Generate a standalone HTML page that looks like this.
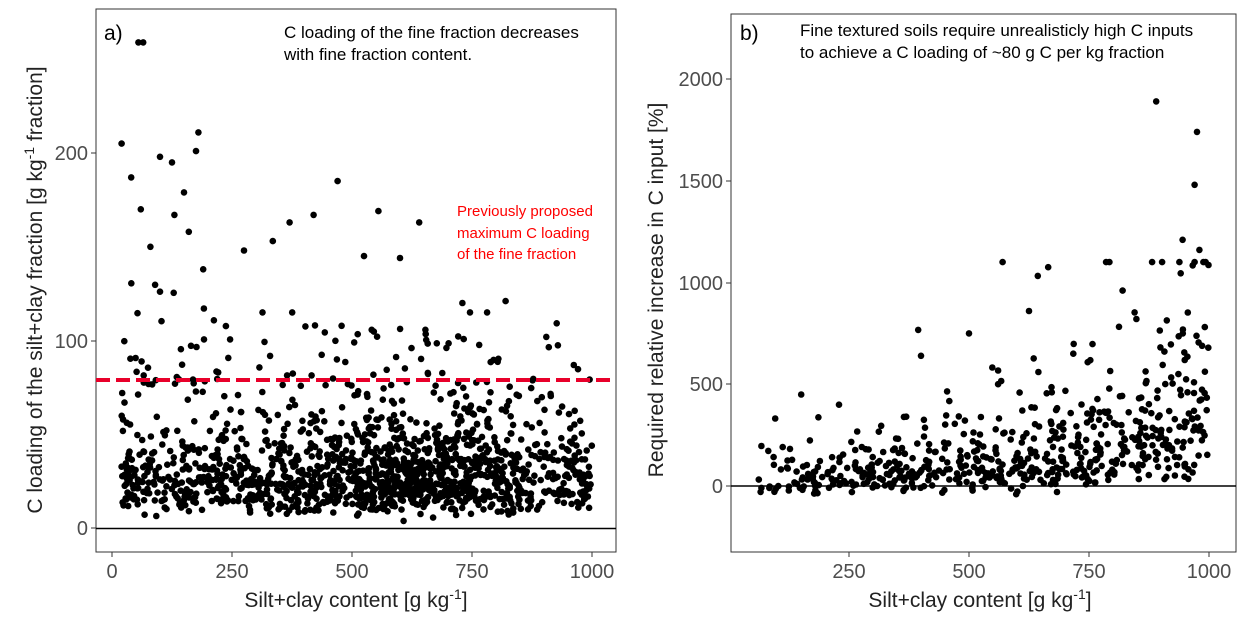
<!DOCTYPE html>
<html><head><meta charset="utf-8"><style>
body{margin:0;background:#fff;width:1250px;height:623px;overflow:hidden}
text{font-family:"Liberation Sans",sans-serif}
</style></head><body>
<svg id="s" width="1250" height="623" xmlns="http://www.w3.org/2000/svg">
<rect x="96" y="9" width="520" height="543" fill="none" stroke="#333" stroke-width="1"/>
<rect x="731" y="14" width="505" height="538" fill="none" stroke="#333" stroke-width="1"/>
<g id="pa"></g><g id="pb"></g>
<line x1="96" x2="616" y1="528.5" y2="528.5" stroke="#000" stroke-width="1.5"/>
<line x1="96" x2="616" y1="380" y2="380" stroke="#e8002a" stroke-width="4" stroke-dasharray="14,6"/>
<line x1="731" x2="1236" y1="486" y2="486" stroke="#000" stroke-width="1.5"/>
<g font-size="20" fill="#4d4d4d" text-anchor="middle">
<text x="112" y="578">0</text><text x="232" y="578">250</text><text x="352" y="578">500</text><text x="472" y="578">750</text><text x="592" y="578">1000</text>
<text x="849" y="578">250</text><text x="969" y="578">500</text><text x="1089" y="578">750</text><text x="1209" y="578">1000</text>
</g>
<g font-size="20" fill="#4d4d4d" text-anchor="end">
<text x="88" y="535">0</text><text x="88" y="348">100</text><text x="88" y="160">200</text>
<text x="723" y="493">0</text><text x="723" y="391">500</text><text x="723" y="290">1000</text><text x="723" y="188">1500</text><text x="723" y="86">2000</text>
</g>
<g stroke="#333"><line x1="112" x2="112" y1="552" y2="557"/><line x1="232" x2="232" y1="552" y2="557"/><line x1="352" x2="352" y1="552" y2="557"/><line x1="472" x2="472" y1="552" y2="557"/><line x1="592" x2="592" y1="552" y2="557"/>
<line x1="849" x2="849" y1="552" y2="557"/><line x1="969" x2="969" y1="552" y2="557"/><line x1="1089" x2="1089" y1="552" y2="557"/><line x1="1209" x2="1209" y1="552" y2="557"/>
<line x1="91" x2="96" y1="528" y2="528"/><line x1="91" x2="96" y1="341" y2="341"/><line x1="91" x2="96" y1="153" y2="153"/>
<line x1="726" x2="731" y1="486" y2="486"/><line x1="726" x2="731" y1="384" y2="384"/><line x1="726" x2="731" y1="283" y2="283"/><line x1="726" x2="731" y1="181" y2="181"/><line x1="726" x2="731" y1="79" y2="79"/></g>
<g font-size="21" fill="#222" text-anchor="middle">
<text x="356" y="607">Silt+clay content [g kg<tspan dy="-8" font-size="14">-1</tspan><tspan dy="8">]</tspan></text>
<text x="980" y="607">Silt+clay content [g kg<tspan dy="-8" font-size="14">-1</tspan><tspan dy="8">]</tspan></text>
<text transform="translate(42,290) rotate(-90)">C loading of the silt+clay fraction [g kg<tspan dy="-8" font-size="14">-1</tspan><tspan dy="8"> fraction]</tspan></text>
<text transform="translate(663,290) rotate(-90)">Required relative increase in C input  [%]</text>
</g>
<g font-size="21" fill="#000"><text x="104" y="40">a)</text><text x="740" y="40">b)</text></g>
<g font-size="17" fill="#000"><text x="284" y="38">C loading of the fine fraction decreases</text><text x="284" y="60">with fine fraction content.</text>
<text x="800" y="36">Fine textured soils require unrealisticly high C inputs</text><text x="800" y="58">to achieve a C loading of ~80 g C per kg fraction</text></g>
<g font-size="15" fill="#ff0000"><text x="457" y="216">Previously proposed</text><text x="457" y="238">maximum C loading</text><text x="457" y="259">of the fine fraction</text></g>
</svg>
<script>
var seed=7;function r(){seed=(seed*16807)%2147483647;return (seed-1)/2147483646;}
function n(){return Math.sqrt(-2*Math.log(r()+1e-9))*Math.cos(6.283*r());}
var ns="http://www.w3.org/2000/svg";
function dot(g,x,y){var c=document.createElementNS(ns,"circle");c.setAttribute("cx",x.toFixed(1));c.setAttribute("cy",y.toFixed(1));c.setAttribute("r","3.3");g.appendChild(c);}
var ga=document.getElementById("pa"),gb=document.getElementById("pb");
function ax(v){return 112+v*0.48;}function ay(v){return 528-v*1.875;}
for(var i=0;i<1500;i++){var x=r()<0.25?630+n()*100:20+r()*980;x=Math.max(15,Math.min(1000,x));
var y=Math.exp(3.35+0.5*n());if(r()<0.03)y=60+r()*50;y=Math.max(3,Math.min(115,y));
if(x<250&&r()<0.12)y=50+r()*90;dot(ga,ax(x),ay(y));}
[[55,259],[65,259],[20,205],[180,211],[40,187],[470,185],[100,198],[125,195],[175,201],[555,169],[640,163],[420,167],[370,163],[60,170],[130,167],[150,179],[160,158],[80,150],[335,153],[275,148],[525,145],[600,144],[190,138],[730,120],[820,121]].forEach(function(p){dot(ga,ax(p[0]),ay(p[1]));});
function bx(v){return 729+v*0.48;}function by(v){return 486-v*0.2035;}
for(var i=0;i<620;i++){var x=60+Math.pow(r(),0.75)*940;var base=60+x*0.2+Math.pow(x/1000,8)*200;
var y=base*Math.exp(0.65*n())-60;if(y<-60)y=-60+r()*40;y=Math.min(y,1100);dot(gb,bx(x),by(y));}
[[890,1890],[975,1740],[970,1480],[945,1210],[665,1075],[980,1160],[820,960],[400,640],[500,750],[625,860]].forEach(function(p){dot(gb,bx(p[0]),by(p[1]));});
</script>
</body></html>
